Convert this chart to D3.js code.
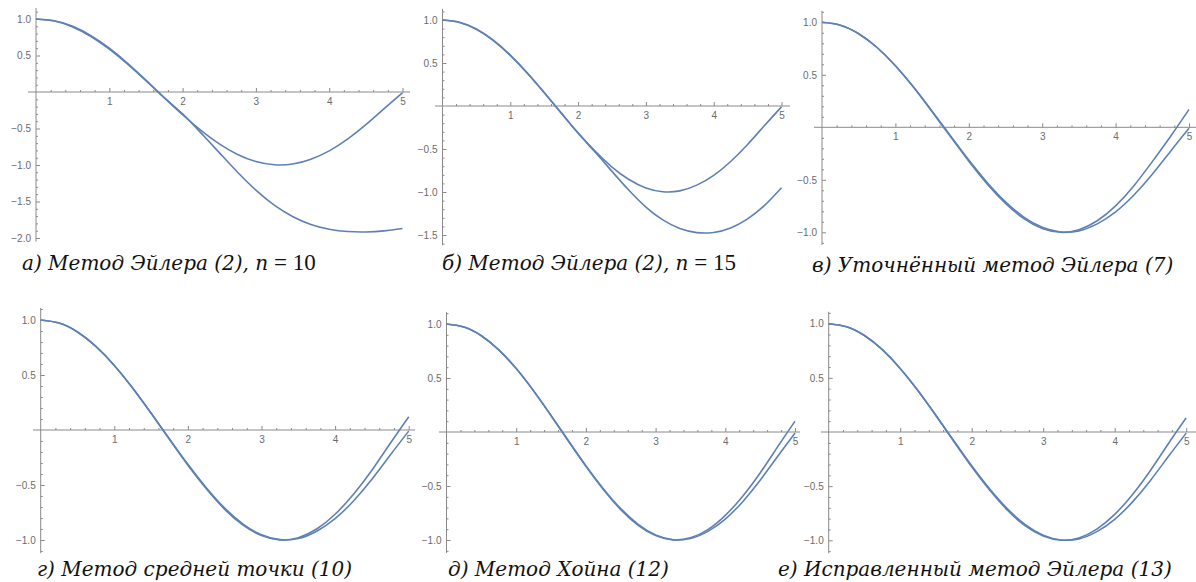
<!DOCTYPE html>
<html>
<head>
<meta charset="utf-8">
<title>Численные методы</title>
<script src="https://cdn.jsdelivr.net/npm/d3@7"></script>
<style>
  body { margin: 0; background: #fff; }
  .tick text { font-family: "Liberation Sans", Arial, sans-serif; font-size: 10px; fill: #6b6b6b; }
  .tick line { stroke: #8a8a8a; }
  .cap { font-family: "DejaVu Serif", serif; font-style: italic; font-size: 20px; fill: #111; }
</style>
</head>
<body>
<script>
  // x grid of the read-off points
  var xs = [0, 0.25, 0.5, 0.75, 1, 1.25, 1.5, 1.75, 2, 2.25, 2.5, 2.75, 3, 3.25, 3.5, 3.75, 4, 4.25, 4.5, 4.75, 5];

  // exact solution (same in every panel)
  var exact = [1.000, 0.972, 0.891, 0.760, 0.587, 0.381, 0.154, -0.081, -0.312, -0.525, -0.710, -0.855, -0.953, -0.997, -0.987, -0.920, -0.806, -0.645, -0.447, -0.227, -0.010];

  // approximate solutions
  var euler10 = [1.000, 0.975, 0.900, 0.772, 0.600, 0.393, 0.162, -0.075, -0.300, -0.560, -0.830, -1.100, -1.345, -1.550, -1.705, -1.815, -1.880, -1.912, -1.918, -1.902, -1.870];
  var euler15 = [1.000, 0.974, 0.896, 0.766, 0.592, 0.386, 0.157, -0.080, -0.318, -0.535, -0.760, -0.980, -1.175, -1.325, -1.425, -1.472, -1.470, -1.418, -1.312, -1.156, -0.950];
  var eulerRefined = [1.000, 0.972, 0.891, 0.760, 0.587, 0.380, 0.149, -0.089, -0.323, -0.539, -0.725, -0.870, -0.964, -1.000, -0.975, -0.890, -0.748, -0.556, -0.327, -0.085, 0.170];
  var midpoint = [1.000, 0.972, 0.891, 0.760, 0.587, 0.380, 0.151, -0.087, -0.320, -0.535, -0.721, -0.865, -0.960, -0.999, -0.979, -0.900, -0.766, -0.584, -0.366, -0.121, 0.120];
  var heun = [1.000, 0.972, 0.891, 0.760, 0.587, 0.380, 0.151, -0.086, -0.318, -0.533, -0.719, -0.864, -0.959, -0.999, -0.980, -0.904, -0.772, -0.594, -0.379, -0.138, 0.100];
  var eulerCorrected = [1.000, 0.972, 0.891, 0.760, 0.587, 0.380, 0.150, -0.087, -0.321, -0.536, -0.722, -0.867, -0.961, -0.999, -0.978, -0.897, -0.761, -0.577, -0.355, -0.108, 0.130];

  var xTicks = [1, 2, 3, 4, 5];
  var yTicks2 = [1.0, 0.5, -0.5, -1.0, -1.5, -2.0];
  var yTicks15 = [1.0, 0.5, -0.5, -1.0, -1.5];
  var yTicks1 = [1.0, 0.5, -0.5, -1.0];

  var captions = ["а) Метод Эйлера (2),  ", "б) Метод Эйлера (2),  ", "в) Уточнённый метод Эйлера (7)",
                  "г) Метод средней точки (10)", "д) Метод Хойна (12)", "е) Исправленный метод Эйлера (13)"];
  var captionN = ["10", "15", null, null, null, null];

  var w = 1196, h = 582;
  var blue = "#5e81b5";

  var svg = d3.select("body").append("svg").attr("width", w).attr("height", h);

  // layout of each panel (pixel placement)
  var panels = [
    { x0: 36,    kx: 73.3, y0: 92,    ky: 73,    lo: -2.05, hi: 1.15, axL: 28,  axR: 410,  ticks: yTicks2,  series: [exact, euler10],        capX: 22,  capY: 270 },
    { x0: 442.5, kx: 67.8, y0: 106,   ky: 86,    lo: -1.62, hi: 1.13, axL: 435, axR: 790,  ticks: yTicks15, series: [exact, euler15],        capX: 442, capY: 270 },
    { x0: 822,   kx: 73.4, y0: 127.3, ky: 105,   lo: -1.12, hi: 1.11, axL: 814, axR: 1196, ticks: yTicks1,  series: [exact, eulerRefined],   capX: 812, capY: 272 },
    { x0: 40.7,  kx: 73.6, y0: 430,   ky: 110,   lo: -1.12, hi: 1.11, axL: 33,  axR: 415,  ticks: yTicks1,  series: [exact, midpoint],       capX: 37,  capY: 576 },
    { x0: 446.5, kx: 69.7, y0: 432,   ky: 108,   lo: -1.12, hi: 1.11, axL: 439, axR: 800,  ticks: yTicks1,  series: [exact, heun],           capX: 448, capY: 576 },
    { x0: 828.7, kx: 71.5, y0: 432,   ky: 108.3, lo: -1.12, hi: 1.11, axL: 821, axR: 1196, ticks: yTicks1,  series: [exact, eulerCorrected], capX: 778, capY: 576 }
  ];

  var fmt = d3.format(".1f");

  panels.forEach(function (p, i) {
    var x = d3.scaleLinear().domain([0, 5]).range([p.x0, p.x0 + 5 * p.kx]);
    var y = d3.scaleLinear().domain([-1, 1]).range([p.y0 + p.ky, p.y0 - p.ky]);
    var g = svg.append("g");

    // axis lines
    g.append("line").attr("x1", p.axL).attr("x2", p.axR).attr("y1", y(0)).attr("y2", y(0))
      .attr("stroke", "#8a8a8a").attr("stroke-width", 1);
    g.append("line").attr("x1", x(0)).attr("x2", x(0)).attr("y1", y(p.hi)).attr("y2", y(p.lo))
      .attr("stroke", "#8a8a8a").attr("stroke-width", 1);

    // x ticks (pointing up, labels under the axis)
    var xMinor = d3.range(1, 25).map(function (k) { return k / 5; }).filter(function (v) { return v % 1 !== 0; });
    var xa = g.append("g").attr("transform", "translate(0," + y(0) + ")")
      .call(d3.axisBottom(x).tickValues(xTicks).tickSize(-4).tickPadding(6).tickFormat(d3.format("d")));
    var xm = g.append("g").attr("transform", "translate(0," + y(0) + ")")
      .call(d3.axisBottom(x).tickValues(xMinor).tickSize(-2).tickFormat(""));

    // y ticks (pointing right, labels left)
    var yMinor = d3.range(-21, 12).map(function (k) { return k / 10; })
      .filter(function (v) { return v >= p.lo && v <= p.hi && Math.abs(v * 2 - Math.round(v * 2)) > 1e-6; });
    var ya = g.append("g").attr("transform", "translate(" + x(0) + ",0)")
      .call(d3.axisLeft(y).tickValues(p.ticks).tickSize(-4).tickPadding(5).tickFormat(fmt));
    var ym = g.append("g").attr("transform", "translate(" + x(0) + ",0)")
      .call(d3.axisLeft(y).tickValues(yMinor).tickSize(-2).tickFormat(""));

    [xa, xm, ya, ym].forEach(function (a) { a.select(".domain").remove(); });

    // curves
    var line = d3.line()
      .x(function (d, j) { return x(xs[j]); })
      .y(function (d) { return y(d); })
      .curve(d3.curveNatural);

    g.selectAll("path.curve")
      .data(p.series)
      .enter()
      .append("path")
      .attr("class", "curve")
      .attr("d", line)
      .attr("fill", "none")
      .attr("stroke", blue)
      .attr("stroke-width", 1.6);

    // caption
    var t = svg.append("text").attr("class", "cap").attr("x", p.capX).attr("y", p.capY);
    t.append("tspan").text(captions[i]);
    if (captionN[i]) {
      t.append("tspan").text("n");
      t.append("tspan").attr("font-style", "normal").attr("font-family", "Liberation Serif, serif")
        .attr("font-size", 23).text(" = " + captionN[i]);
    }
  });
</script>
</body>
</html>
